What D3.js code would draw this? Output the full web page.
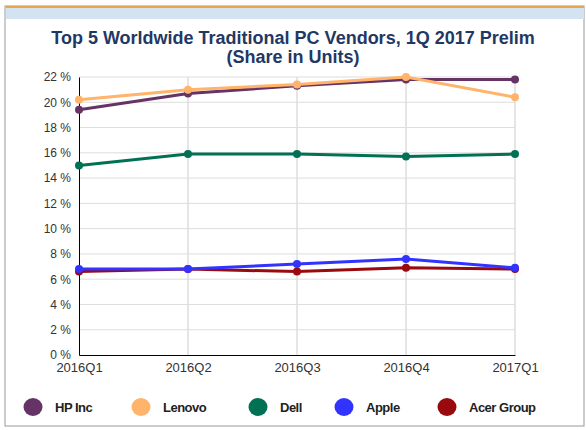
<!DOCTYPE html><html><head><meta charset="utf-8"><script src="https://cdn.jsdelivr.net/npm/d3@7"></script>
<style>body{margin:0;background:#fff}svg{font-family:Arial,"Liberation Sans",sans-serif}</style></head><body><svg id="c" width="586" height="430"></svg>
<script>
const quarters=["2016Q1","2016Q2","2016Q3","2016Q4","2017Q1"];
const seriesNames=["HP Inc","Lenovo","Dell","Apple","Acer Group"];
const colors=["#663366","#FFB36B","#007155","#3333FF","#990A0F"];
const hp=[19.4,20.7,21.3,21.8,21.8];
const lenovo=[20.2,21.0,21.4,22.0,20.4];
const dell=[15.0,15.9,15.9,15.7,15.9];
const apple=[6.8,6.8,7.2,7.6,6.9];
const acer=[6.6,6.8,6.6,6.9,6.8];
const yTicks=[0,2,4,6,8,10,12,14,16,18,20,22];
const data=[hp,lenovo,dell,apple,acer];
const svg=d3.select("#c");
svg.append("rect").attr("x",5).attr("y",6).attr("width",579).attr("height",420).attr("fill","#fff").attr("stroke","#999");
svg.append("rect").attr("x",6).attr("y",8).attr("width",578).attr("height",11).attr("fill","#d3e3f2");
svg.append("line").attr("x1",6).attr("x2",584).attr("y1",7).attr("y2",7).attr("stroke","#e6a84a").attr("stroke-width",2);
svg.append("text").attr("x",293).attr("y",44).attr("text-anchor","middle").attr("font-size",18).attr("font-weight","bold").attr("fill","#1f3864").text("Top 5 Worldwide Traditional PC Vendors, 1Q 2017 Prelim");
svg.append("text").attr("x",293).attr("y",63).attr("text-anchor","middle").attr("font-size",18).attr("font-weight","bold").attr("fill","#1f3864").text("(Share in Units)");
const x=d3.scalePoint().domain(quarters).range([79,515]);
const y=d3.scaleLinear().domain([0,22]).range([355,77]);
const g=svg.append("g");
g.selectAll(".gx").data(quarters.slice(1)).join("line").attr("x1",d=>x(d)).attr("x2",d=>x(d)).attr("y1",77).attr("y2",355).attr("stroke","#ccc");
g.selectAll(".gy").data(yTicks.slice(1)).join("line").attr("x1",79).attr("x2",515).attr("y1",d=>y(d)).attr("y2",d=>y(d)).attr("stroke","#ddd");
const ya=svg.append("g").attr("transform","translate(79,0)").call(d3.axisLeft(y).tickValues(yTicks).tickSize(0).tickPadding(8).tickFormat(d=>d+" %"));
const xa=svg.append("g").attr("transform","translate(0,355)").call(d3.axisBottom(x).tickSize(0).tickPadding(8));
[ya,xa].forEach(a=>{a.selectAll("text").attr("font-size",13).attr("fill","#333").attr("font-family","Arial,'Liberation Sans',sans-serif");a.select(".domain").attr("stroke","#000")});
ya.selectAll("text").attr("font-size",12);
const line=d3.line().x((d,i)=>x(quarters[i])).y(d=>y(d));
[2,4,3,0,1].forEach(k=>{
 svg.append("path").attr("d",line(data[k])).attr("fill","none").attr("stroke",colors[k]).attr("stroke-width",3);
 svg.selectAll(null).data(data[k]).join("circle").attr("cx",(d,i)=>x(quarters[i])).attr("cy",d=>y(d)).attr("r",4).attr("fill",colors[k]);
});
const lx=[33,141,258,344,447];
seriesNames.forEach((n,i)=>{
 svg.append("ellipse").attr("cx",lx[i]).attr("cy",407).attr("rx",9.5).attr("ry",9).attr("fill",colors[i]);
 svg.append("text").attr("x",lx[i]+22).attr("y",412).attr("font-size",13).attr("font-weight","bold").attr("fill","#222").attr("letter-spacing","-0.5").text(n);
});
</script></body></html>
